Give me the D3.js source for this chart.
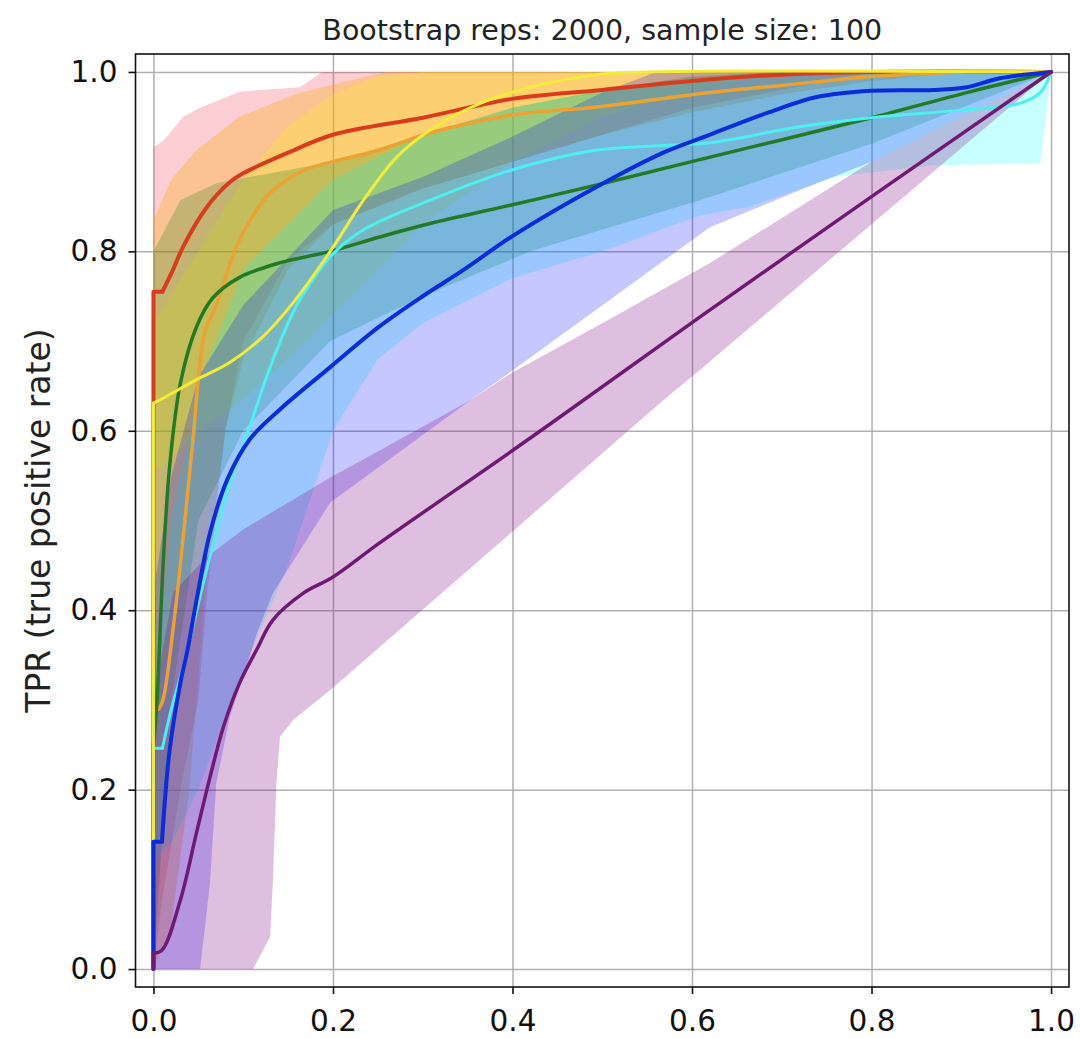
<!DOCTYPE html>
<html>
<head>
<meta charset="utf-8">
<script src="https://cdn.jsdelivr.net/npm/d3@7"></script>
<style>
  html, body { margin: 0; padding: 0; background: #ffffff; }
  svg { display: block; font-family: "DejaVu Sans", sans-serif; }
</style>
</head>
<body>
<svg id="chart" width="1080" height="1038"></svg>
<script>
// ---------------- DATA (FPR, TPR) ----------------
const titleText = "Bootstrap reps: 2000, sample size: 100";
const yLabelText = "TPR (true positive rate)";
const xTickValues = [0.0, 0.2, 0.4, 0.6, 0.8, 1.0];
const yTickValues = [0.0, 0.2, 0.4, 0.6, 0.8, 1.0];
const seriesNames = ["red", "orange", "yellow", "green", "cyan", "blue", "purple"];

const redMean  = [[0,0],[0,0.755],[0.01,0.755],[0.022,0.78],[0.033,0.805],[0.06,0.85],[0.085,0.877],[0.1,0.887],[0.15,0.91],[0.2,0.93],[0.3,0.949],[0.4,0.97],[0.5,0.98],[0.6,0.99],[0.7,0.997],[0.8,1],[1,1]];
const redUpper = [[0,0],[0,0.916],[0.012,0.924],[0.033,0.95],[0.052,0.96],[0.096,0.978],[0.163,0.983],[0.188,1.0],[1,1]];
const redLower = [[0,0],[0.01,0.08],[0.03,0.2],[0.05,0.3],[0.06,0.42],[0.08,0.6],[0.1,0.7],[0.15,0.79],[0.2,0.83],[0.3,0.87],[0.4,0.9],[0.5,0.93],[0.6,0.96],[0.7,0.98],[0.8,1.0],[1,1]];

const orangeMean  = [[0,0],[0,0.29],[0.006,0.29],[0.0106,0.30],[0.022,0.38],[0.033,0.48],[0.044,0.59],[0.057,0.709],[0.07,0.74],[0.096,0.813],[0.13,0.865],[0.167,0.89],[0.2,0.9],[0.252,0.913],[0.308,0.932],[0.4,0.952],[0.494,0.961],[0.62,0.977],[0.7,0.985],[0.8,0.995],[0.9,1],[1,1]];
const orangeUpper = [[0,0],[0,0.835],[0.02,0.88],[0.048,0.913],[0.096,0.95],[0.16,0.976],[0.234,0.994],[0.26,1],[1,1]];
const orangeLower = [[0,0],[0.02,0.05],[0.04,0.2],[0.06,0.45],[0.08,0.6],[0.1,0.68],[0.15,0.78],[0.2,0.83],[0.3,0.87],[0.4,0.9],[0.5,0.93],[0.6,0.955],[0.7,0.975],[0.8,0.99],[0.9,1],[1,1]];

const yellowMean  = [[0,0],[0,0.631],[0.012,0.637],[0.048,0.657],[0.085,0.676],[0.122,0.705],[0.155,0.742],[0.197,0.80],[0.234,0.857],[0.271,0.905],[0.308,0.935],[0.364,0.965],[0.42,0.983],[0.494,0.997],[0.55,1],[1,1]];
const yellowUpper = [[0,0],[0,0.72],[0.05,0.8],[0.1,0.88],[0.15,0.94],[0.2,0.975],[0.25,0.995],[0.3,1],[1,1]];
const yellowLower = [[0,0],[0,0.56],[0.01,0.56],[0.05,0.6],[0.1,0.635],[0.15,0.68],[0.2,0.73],[0.3,0.83],[0.4,0.9],[0.5,0.95],[0.6,0.98],[0.7,1],[1,1]];

const greenMean  = [[0,0],[0,0.25],[0.004,0.30],[0.0106,0.448],[0.018,0.56],[0.03,0.653],[0.048,0.716],[0.066,0.748],[0.096,0.771],[0.14,0.787],[0.197,0.80],[0.252,0.816],[0.308,0.831],[0.4,0.852],[0.494,0.874],[0.62,0.905],[0.8,0.949],[0.906,0.977],[1,1]];
const greenUpper = [[0,0],[0,0.8],[0.03,0.857],[0.07,0.876],[0.2,0.9],[0.3,0.93],[0.4,0.96],[0.5,0.98],[0.6,0.995],[0.7,1],[1,1]];
const greenLower = [[0,0],[0.01,0.15],[0.02,0.3],[0.05,0.5],[0.1,0.6],[0.197,0.70],[0.3,0.75],[0.42,0.80],[0.609,0.857],[0.8,0.92],[1,1]];

const cyanMean  = [[0,0],[0,0.246],[0.01,0.246],[0.02,0.29],[0.03,0.325],[0.06,0.448],[0.085,0.542],[0.107,0.604],[0.13,0.671],[0.155,0.731],[0.163,0.746],[0.197,0.794],[0.234,0.824],[0.308,0.857],[0.4,0.891],[0.494,0.913],[0.568,0.918],[0.62,0.921],[0.72,0.939],[0.8,0.949],[0.906,0.958],[0.965,0.965],[0.988,0.977],[1,1]];
const cyanUpper = [[0,0],[0,0.3],[0.02,0.5],[0.05,0.65],[0.1,0.78],[0.2,0.88],[0.3,0.93],[0.4,0.96],[0.5,0.98],[0.6,0.99],[0.7,1],[1,1]];
const cyanLower = [[0,0],[0,0.12],[0.02,0.14],[0.05,0.2],[0.08,0.28],[0.107,0.35],[0.15,0.45],[0.2,0.6],[0.25,0.68],[0.3,0.72],[0.4,0.77],[0.5,0.8],[0.609,0.84],[0.665,0.85],[0.758,0.883],[0.869,0.896],[0.988,0.898],[1,1]];

const blueMean  = [[0,0],[0,0.142],[0.0095,0.142],[0.018,0.244],[0.03,0.319],[0.038,0.356],[0.048,0.411],[0.063,0.486],[0.082,0.545],[0.107,0.59],[0.14,0.623],[0.197,0.671],[0.25,0.715],[0.3,0.75],[0.345,0.779],[0.4,0.817],[0.494,0.872],[0.568,0.91],[0.609,0.926],[0.683,0.954],[0.739,0.972],[0.8,0.979],[0.869,0.98],[0.906,0.983],[0.943,0.993],[1,1]];
const blueUpper = [[0,0],[0,0.42],[0.02,0.55],[0.05,0.66],[0.1,0.74],[0.2,0.846],[0.3,0.883],[0.4,0.928],[0.5,0.977],[0.56,1],[1,1]];
const blueLower = [[0,0],[0.052,0],[0.063,0.096],[0.07,0.207],[0.085,0.281],[0.104,0.337],[0.115,0.374],[0.133,0.419],[0.197,0.52],[0.353,0.634],[0.39,0.66],[0.62,0.827],[0.72,0.868],[0.8,0.9],[0.9,0.95],[1,1]];

const purpleMean  = [[0,0],[0,0.018],[0.0095,0.021],[0.03,0.077],[0.048,0.152],[0.063,0.214],[0.078,0.27],[0.096,0.319],[0.115,0.356],[0.133,0.389],[0.167,0.419],[0.2,0.437],[0.252,0.475],[0.4,0.578],[0.479,0.634],[0.609,0.727],[0.8,0.861],[1,1]];
const purpleUpper = [[0,0],[0,0.3],[0.022,0.42],[0.06,0.46],[0.1,0.49],[0.197,0.548],[0.252,0.578],[0.353,0.634],[0.4,0.665],[0.5,0.72],[0.62,0.787],[0.8,0.9],[0.9,0.95],[1,1]];
const purpleLower = [[0,0],[0.111,0],[0.13,0.036],[0.133,0.096],[0.137,0.207],[0.141,0.259],[0.156,0.278],[0.197,0.311],[0.568,0.634],[0.609,0.668],[1,1]];

// ---------------- STYLE ----------------
const lineColors = { red:"#d93b1f", orange:"#eba232", yellow:"#f2ec3a", green:"#237a25", cyan:"#4df0ee", blue:"#0b2cdb", purple:"#6e1a73" };
const bandColors = { red:"#ec3c4c", orange:"#ffa500", yellow:"#ffff00", green:"#008000", cyan:"#00ffff", blue:"#0000ff", purple:"#800080" };
const bandOpacity = { red:0.25, orange:0.3, yellow:0.22, green:0.22, cyan:0.22, blue:0.22, purple:0.25 };
const lineWidths = { red:4, orange:3.5, yellow:3, green:3.5, cyan:3, blue:4, purple:3.5 };

const seriesData = {
  red:    { mean: redMean,    upper: redUpper,    lower: redLower },
  orange: { mean: orangeMean, upper: orangeUpper, lower: orangeLower },
  yellow: { mean: yellowMean, upper: yellowUpper, lower: yellowLower },
  green:  { mean: greenMean,  upper: greenUpper,  lower: greenLower },
  cyan:   { mean: cyanMean,   upper: cyanUpper,   lower: cyanLower },
  blue:   { mean: blueMean,   upper: blueUpper,   lower: blueLower },
  purple: { mean: purpleMean, upper: purpleUpper, lower: purpleLower }
};
const bandOrder = ["red", "orange", "yellow", "green", "cyan", "blue", "purple"];
const lineOrder = ["red", "orange", "green", "cyan", "yellow", "blue", "purple"];

// ---------------- LAYOUT ----------------
const svg = d3.select("#chart");
const frame = { left: 135.5, right: 1069, top: 54, bottom: 987 };
const x = d3.scaleLinear().domain([-0.02, 1.02]).range([frame.left, frame.right]);
const y = d3.scaleLinear().domain([-0.02, 1.02]).range([frame.bottom, frame.top]);

svg.append("defs").append("clipPath").attr("id", "plotclip")
  .append("rect")
  .attr("x", frame.left).attr("y", frame.top)
  .attr("width", frame.right - frame.left).attr("height", frame.bottom - frame.top);

// grid
const grid = svg.append("g");
grid.append("g").attr("transform", `translate(0,${frame.bottom})`)
  .call(d3.axisBottom(x).tickValues(xTickValues).tickSize(-(frame.bottom - frame.top)).tickFormat(""))
  .call(g => g.select(".domain").remove())
  .call(g => g.selectAll("line").attr("stroke", "#b0b0b0").attr("stroke-width", 1.5));
grid.append("g").attr("transform", `translate(${frame.left},0)`)
  .call(d3.axisLeft(y).tickValues(yTickValues).tickSize(-(frame.right - frame.left)).tickFormat(""))
  .call(g => g.select(".domain").remove())
  .call(g => g.selectAll("line").attr("stroke", "#b0b0b0").attr("stroke-width", 1.5));

const plot = svg.append("g").attr("clip-path", "url(#plotclip)");

// bands
const poly = d3.line().x(d => x(d[0])).y(d => y(d[1])).curve(d3.curveLinearClosed);
bandOrder.forEach(name => {
  const s = seriesData[name];
  const pts = s.upper.concat(s.lower.slice().reverse());
  plot.append("path")
    .attr("d", poly(pts))
    .attr("fill", bandColors[name])
    .attr("fill-opacity", bandOpacity[name])
    .attr("stroke", "none");
});

// mean lines: step part at FPR=0 drawn straight, remainder smoothed
const lineStep = d3.line().x(d => x(d[0])).y(d => y(d[1])).curve(d3.curveLinear);
const lineSmooth = d3.line().x(d => x(d[0])).y(d => y(d[1])).curve(d3.curveCatmullRom.alpha(0.5));
function stepEnd(pts) {
  let k = 1;
  for (let i = 1; i < pts.length; i++) { if (pts[i][0] === 0) k = i; }
  if (k + 1 < pts.length && pts[k + 1][1] === pts[k][1]) k = k + 1;
  return k;
}
lineOrder.forEach(name => {
  const pts = seriesData[name].mean;
  const k = stepEnd(pts);
  const g = plot.append("g")
    .attr("fill", "none")
    .attr("stroke", lineColors[name])
    .attr("stroke-width", lineWidths[name])
    .attr("stroke-linejoin", "round")
    .attr("stroke-linecap", "round");
  g.append("path").attr("d", lineStep(pts.slice(0, k + 1)));
  g.append("path").attr("d", lineSmooth(pts.slice(k)));
});

// frame
svg.append("rect")
  .attr("x", frame.left).attr("y", frame.top)
  .attr("width", frame.right - frame.left).attr("height", frame.bottom - frame.top)
  .attr("fill", "none").attr("stroke", "#111").attr("stroke-width", 1.6);

// axes
const fmt = d3.format(".1f");
svg.append("g").attr("transform", `translate(0,${frame.bottom})`)
  .call(d3.axisBottom(x).tickValues(xTickValues).tickFormat(fmt).tickSize(7).tickPadding(16))
  .call(g => g.select(".domain").remove())
  .call(g => g.selectAll("line").attr("stroke", "#111").attr("stroke-width", 1.6))
  .call(g => g.selectAll("text").attr("font-size", 29.5).attr("fill", "#111").attr("font-family", "DejaVu Sans"));
svg.append("g").attr("transform", `translate(${frame.left},0)`)
  .call(d3.axisLeft(y).tickValues(yTickValues).tickFormat(fmt).tickSize(7).tickPadding(11))
  .call(g => g.select(".domain").remove())
  .call(g => g.selectAll("line").attr("stroke", "#111").attr("stroke-width", 1.6))
  .call(g => g.selectAll("text").attr("font-size", 29.5).attr("fill", "#111").attr("font-family", "DejaVu Sans"));

// title
svg.append("text")
  .attr("x", (frame.left + frame.right) / 2).attr("y", 40)
  .attr("text-anchor", "middle")
  .attr("font-size", 28.5).attr("fill", "#222")
  .text(titleText);

// y label
svg.append("text")
  .attr("transform", `translate(50,${(frame.top + frame.bottom) / 2}) rotate(-90)`)
  .attr("text-anchor", "middle")
  .attr("font-size", 33).attr("fill", "#222")
  .text(yLabelText);
</script>
</body>
</html>
